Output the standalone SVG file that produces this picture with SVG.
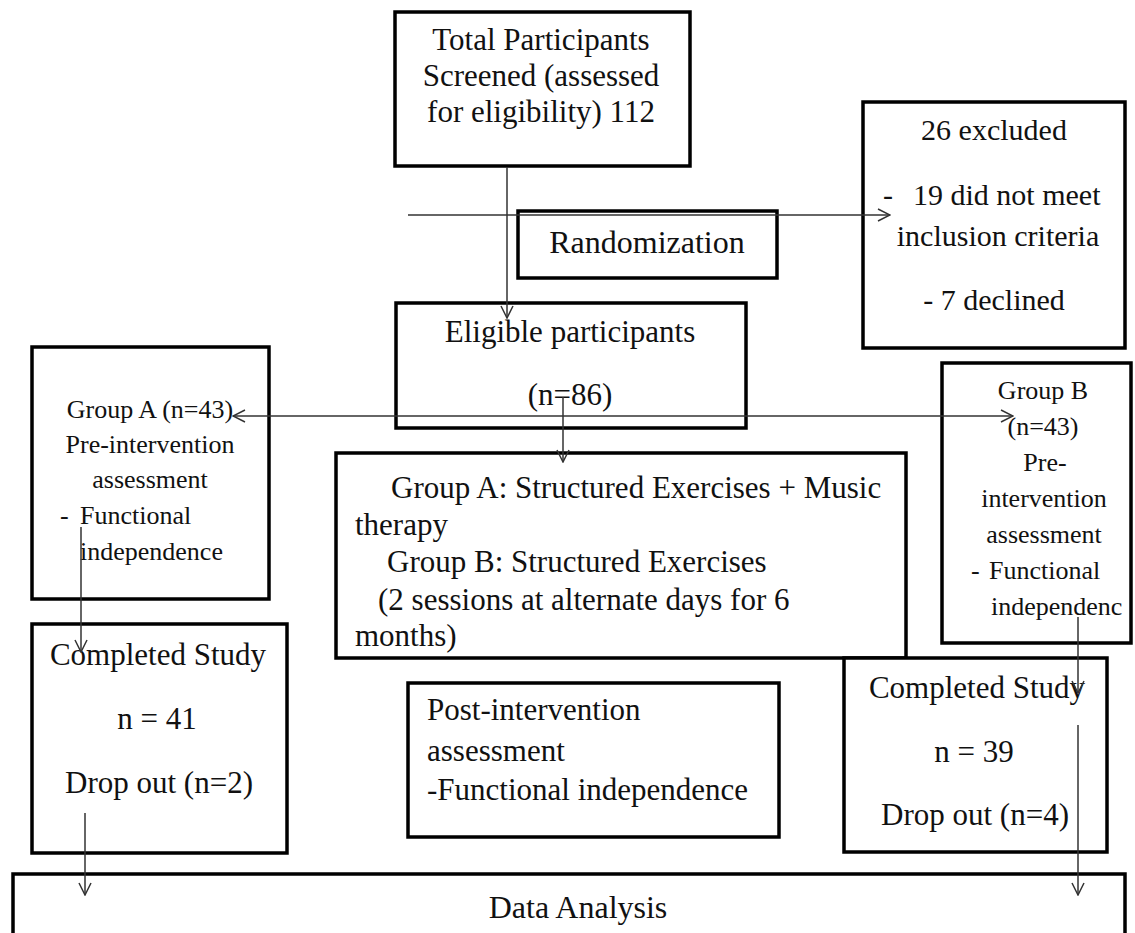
<svg xmlns="http://www.w3.org/2000/svg" width="1135" height="933" viewBox="0 0 1135 933">
<defs>
<style>
.box{fill:#fff;stroke:#000;stroke-width:3.5}
text{font-family:"Liberation Serif","Times New Roman",serif;fill:#111}
.f31{font-size:31px}
.f30{font-size:30px}
.f26{font-size:26px}
.m{text-anchor:middle}
.c{fill:none;stroke:#333;stroke-width:1.5}
</style>
<marker id="ah" viewBox="0 0 14 14" refX="13" refY="7" markerWidth="14" markerHeight="14" markerUnits="userSpaceOnUse" orient="auto-start-reverse">
<path d="M1,1 L13,7 L1,13" fill="none" stroke="#333" stroke-width="1.5"/>
</marker>
</defs>
<rect width="1135" height="933" fill="#fff"/>

<g id="screened">
<rect class="box" x="395" y="12" width="295" height="154"/>
<text class="f31 m" x="541" y="50">Total Participants</text>
<text class="f31 m" x="541" y="86">Screened (assessed</text>
<text class="f31 m" x="541" y="122">for eligibility) 112</text>
</g>

<g id="randomization">
<rect class="box" x="518" y="211" width="259" height="67"/>
<text class="m" x="647" y="253" style="font-size:32px">Randomization</text>
</g>

<g id="excluded">
<rect class="box" x="863" y="102" width="262" height="246"/>
<text class="f30 m" x="994" y="140">26 excluded</text>
<text class="f30" y="205"><tspan x="883">-</tspan><tspan x="913">19 did not meet</tspan></text>
<text class="f30 m" x="998" y="246">inclusion criteria</text>
<text class="f30 m" x="994" y="310">- 7 declined</text>
</g>

<g id="eligible">
<rect class="box" x="396" y="303" width="350" height="125"/>
<text class="f31 m" x="570" y="342">Eligible participants</text>
<text class="f31 m" x="570" y="405">(n=86)</text>
</g>

<g id="groupA">
<rect class="box" x="32" y="347" width="237" height="252"/>
<text class="f26 m" x="150" y="418">Group A (n=43)</text>
<text class="f26 m" x="150" y="453">Pre-intervention</text>
<text class="f26 m" x="150" y="488">assessment</text>
<text class="f26" y="524"><tspan x="60">-</tspan><tspan x="80">Functional</tspan></text>
<text class="f26" x="80" y="560">independence</text>
</g>

<g id="groupB">
<rect class="box" x="942" y="363" width="189" height="280"/>
<text class="f26 m" x="1043" y="399">Group B</text>
<text class="f26 m" x="1043" y="435">(n=43)</text>
<text class="f26 m" x="1045" y="471">Pre-</text>
<text class="f26 m" x="1044" y="507">intervention</text>
<text class="f26 m" x="1044" y="543">assessment</text>
<text class="f26" y="579"><tspan x="971">-</tspan><tspan x="989">Functional</tspan></text>
<text class="f26" x="991" y="615">independenc</text>
</g>

<g id="intervention">
<rect class="box" x="336" y="453" width="570" height="205"/>
<text class="f31" x="391" y="498">Group A: Structured Exercises + Music</text>
<text class="f31" x="355" y="535">therapy</text>
<text class="f31" x="387" y="572">Group B: Structured Exercises</text>
<text class="f31" x="378" y="610">(2 sessions at alternate days for 6</text>
<text class="f31" x="355" y="646">months)</text>
</g>

<g id="completedA">
<rect class="box" x="32" y="624" width="255" height="229"/>
<text class="f31 m" x="158" y="665">Completed Study</text>
<text class="f31 m" x="157" y="729">n = 41</text>
<text class="f31 m" x="159" y="793">Drop out (n=2)</text>
</g>

<g id="post">
<rect class="box" x="408" y="683" width="371" height="154"/>
<text class="f31" x="427" y="720">Post-intervention</text>
<text class="f31" x="427" y="761">assessment</text>
<text class="f31" x="427" y="800">-Functional independence</text>
</g>

<g id="completedB">
<rect class="box" x="844" y="658" width="263" height="194"/>
<text class="f31 m" x="977" y="698">Completed Study</text>
<text class="f31 m" x="974" y="762">n = 39</text>
<text class="f31 m" x="975" y="825">Drop out (n=4)</text>
</g>

<g id="analysis">
<rect class="box" x="13" y="874" width="1112" height="80"/>
<text class="m" x="578" y="918" style="font-size:32px">Data Analysis</text>
</g>

<g id="connectors">
<line class="c" x1="507" y1="167" x2="507" y2="318" marker-end="url(#ah)"/>
<line class="c" x1="408" y1="215" x2="890" y2="215" marker-end="url(#ah)"/>
<line class="c" x1="233" y1="416" x2="1013" y2="416" marker-start="url(#ah)" marker-end="url(#ah)"/>
<line class="c" x1="563" y1="397" x2="563" y2="462" marker-end="url(#ah)"/>
<line class="c" x1="81" y1="527" x2="81" y2="652" marker-end="url(#ah)"/>
<line class="c" x1="85" y1="813" x2="85" y2="895" marker-end="url(#ah)"/>
<line class="c" x1="1078" y1="617" x2="1078" y2="693" marker-end="url(#ah)"/>
<line class="c" x1="1078" y1="725" x2="1078" y2="895" marker-end="url(#ah)"/>
</g>
</svg>
